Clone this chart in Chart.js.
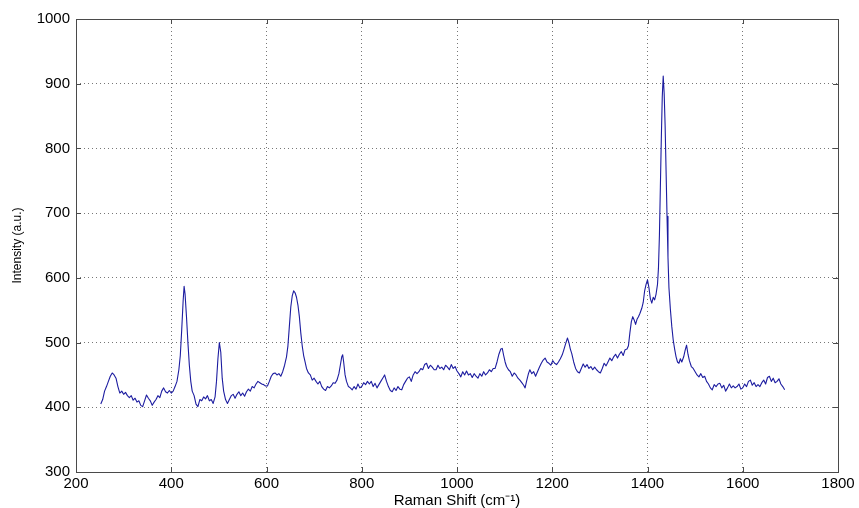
<!DOCTYPE html>
<html>
<head>
<meta charset="utf-8">
<script src="https://cdn.jsdelivr.net/npm/chart.js@4.4.1/dist/chart.umd.min.js"></script>
<style>
html,body{margin:0;padding:0;background:#fff;}
#wrap{width:859px;height:508px;position:relative;}
</style>
</head>
<body>
<div id="wrap"><canvas id="c" width="859" height="508"></canvas></div>
<script>
const shift = [252,256,260,264,268,272,276,280,284,288,292,296,300,304,308,312,316,320,324,328,332,336,340,344,348,352,356,360,364,368,372,376,380,384,388,392,396,400,404,408,412,416,419,422,425,427,429,432,435,438,441,444,448,452,456,460,464,468,472,476,480,484,488,492,495,498,501,504,507,510,514,518,522,526,530,534,538,542,546,550,554,558,562,566,570,574,578,582,586,590,594,598,602,606,610,614,618,622,626,630,634,638,642,645,648,651,654,657,660,663,666,669,672,675,678,681,684,688,692,696,700,704,708,712,716,720,724,728,732,736,740,744,748,752,755,758,760,762,765,768,772,776,780,784,788,792,796,800,804,808,812,816,820,824,828,832,836,840,844,848,852,856,860,864,868,872,876,880,884,888,892,896,900,904,908,912,916,920,924,928,932,936,940,944,948,952,956,960,964,968,972,976,980,984,988,992,996,1000,1004,1008,1012,1016,1020,1024,1028,1032,1036,1040,1044,1048,1052,1056,1060,1064,1068,1072,1076,1080,1084,1088,1092,1095,1098,1101,1104,1108,1112,1116,1120,1124,1128,1132,1136,1140,1143,1146,1150,1153,1157,1161,1165,1169,1173,1177,1181,1185,1189,1193,1197,1201,1205,1209,1213,1217,1221,1224,1228,1232,1235,1238,1241,1245,1249,1253,1257,1261,1265,1269,1273,1277,1281,1285,1289,1293,1297,1301,1305,1309,1313,1317,1321,1325,1329,1333,1337,1341,1345,1349,1353,1357,1360,1363,1366,1369,1372,1375,1378,1381,1384,1388,1391,1394,1397,1400,1403,1406,1409,1412,1415,1418,1421,1423,1425,1427,1429,1431,1433,1435,1437,1439,1441,1443,1445,1448,1451,1454,1457,1460,1463,1466,1469,1472,1476,1479,1482,1485,1488,1492,1496,1500,1504,1508,1512,1516,1520,1524,1528,1532,1536,1540,1544,1548,1552,1556,1560,1564,1568,1572,1576,1580,1584,1588,1592,1596,1600,1604,1608,1612,1616,1620,1624,1628,1632,1636,1640,1644,1648,1652,1656,1660,1664,1668,1672,1676,1680,1684,1688];
const intensity = [405,412,425,432,440,448,453,450,445,432,422,425,420,423,418,415,418,411,414,408,410,403,401,410,419,414,410,403,408,412,418,415,425,430,424,422,426,422,425,432,440,458,480,520,565,587,575,540,500,465,440,425,418,405,401,412,410,416,413,418,410,412,406,416,440,475,500,485,445,425,412,406,412,418,420,414,420,424,418,422,417,424,428,425,432,430,436,440,438,436,435,433,433,440,448,452,453,450,452,448,455,465,478,495,525,555,572,580,577,570,558,540,515,495,480,470,460,453,450,442,445,440,436,440,432,428,426,432,430,433,438,437,442,452,465,478,481,470,450,440,432,430,427,432,428,436,430,432,438,435,440,436,440,432,437,430,435,440,445,450,440,432,426,424,430,426,432,428,427,435,440,445,447,440,450,455,452,455,460,458,466,468,460,465,462,458,458,465,460,462,458,465,462,458,466,460,463,456,452,447,455,450,456,450,452,446,452,448,445,452,448,455,450,453,458,455,460,460,470,482,490,491,480,470,463,458,455,448,453,450,445,442,438,434,430,440,452,458,452,455,448,455,462,468,473,476,470,468,465,472,468,466,470,475,481,488,498,507,500,490,483,470,460,455,453,460,467,462,466,460,463,458,462,458,455,453,460,468,464,470,476,472,478,482,476,482,486,480,489,490,495,515,532,540,535,528,536,540,545,553,562,580,590,597,585,568,561,570,566,575,590,615,665,740,815,880,912,885,835,765,695,632,585,552,525,504,490,478,470,468,475,470,478,488,496,482,472,463,460,455,450,447,452,446,448,440,436,430,427,435,432,436,437,430,434,425,430,436,430,433,430,432,436,428,430,436,432,440,442,434,438,432,435,432,438,442,436,446,448,440,445,438,440,444,436,432,427];
const xTicks = [200,400,600,800,1000,1200,1400,1600,1800];
const yTicks = [300,400,500,600,700,800,900,1000];
const xTitle = 'Raman Shift (cm\u207B\u00B9)';
const yTitle = 'Intensity (a.u.)';

const points = shift.map((x, i) => ({x: x, y: intensity[i]}));

const boxPlugin = {
  id: 'boxTicks',
  afterDraw(chart) {
    const ctx = chart.ctx, a = chart.chartArea;
    const xs = chart.scales.x, ys = chart.scales.y;
    ctx.save();
    ctx.strokeStyle = '#4a4a4a';
    ctx.lineWidth = 1;
    ctx.setLineDash([]);
    ctx.strokeRect(Math.round(a.left) + 0.5, Math.round(a.top) + 0.5, Math.round(a.right - a.left), Math.round(a.bottom - a.top));
    ctx.beginPath();
    const L = 5;
    xTicks.forEach(v => {
      const px = Math.round(xs.getPixelForValue(v)) + 0.5;
      ctx.moveTo(px, a.bottom); ctx.lineTo(px, a.bottom - L);
      ctx.moveTo(px, a.top); ctx.lineTo(px, a.top + L);
    });
    yTicks.forEach(v => {
      const py = Math.round(ys.getPixelForValue(v)) + 0.5;
      ctx.moveTo(a.left, py); ctx.lineTo(a.left + L, py);
      ctx.moveTo(a.right, py); ctx.lineTo(a.right - L, py);
    });
    ctx.stroke();
    ctx.restore();
  }
};

new Chart(document.getElementById('c'), {
  type: 'line',
  data: {
    datasets: [{
      data: points,
      borderColor: '#1c1ca0',
      borderWidth: 1.1,
      borderJoinStyle: 'round',
      pointRadius: 0,
      tension: 0,
      fill: false
    }]
  },
  options: {
    responsive: false,
    animation: false,
    devicePixelRatio: 1,
    layout: {padding: {left: 0, right: 21, top: 19, bottom: 0}},
    plugins: {legend: {display: false}, tooltip: {enabled: false}},
    scales: {
      x: {
        type: 'linear', min: 200, max: 1800,
        afterBuildTicks(s) { s.ticks = xTicks.map(v => ({value: v})); },
        afterFit(s) { s.height = 36; },
        grid: {color: '#777', lineWidth: 1, drawTicks: false},
        border: {display: false, dash: [1, 3]},
        ticks: {color: '#000', font: {family: 'Liberation Sans, Arial, sans-serif', size: 15}, padding: 3, maxRotation: 0,
                callback: v => String(v)},
        title: {display: true, text: xTitle, color: '#000', font: {family: 'Liberation Sans, Arial, sans-serif', size: 15}, padding: {top: 2, bottom: -2}}
      },
      y: {
        type: 'linear', min: 300, max: 1000,
        afterBuildTicks(s) { s.ticks = yTicks.map(v => ({value: v})); },
        afterFit(s) { s.width = 76; },
        grid: {color: '#777', lineWidth: 1, drawTicks: false},
        border: {display: false, dash: [1, 3]},
        ticks: {color: '#000', font: {family: 'Liberation Sans, Arial, sans-serif', size: 15}, padding: 6,
                callback: v => String(v)},
        title: {display: true, text: yTitle, color: '#000', font: {family: 'Liberation Sans, Arial, sans-serif', size: 12}, padding: {top: 10, bottom: 0}}
      }
    }
  },
  plugins: [boxPlugin]
});
</script>
</body>
</html>
